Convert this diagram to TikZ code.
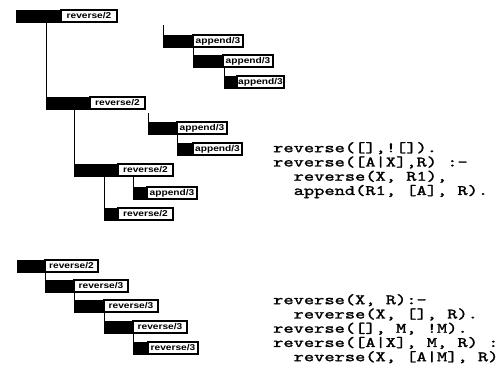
\documentclass[tikz,border=0pt]{standalone}
\usepackage{fontspec}
\newfontfamily\labfontfam{Liberation Sans}[FakeStretch=1.2]
\newfontfamily\codefontfam{lmmono10-regular}[Extension=.otf, FakeStretch=1.35, FakeBold=1.6]
\newcommand\mycodefont{\codefontfam\fontsize{14.5}{14.3}\selectfont\lineskiplimit=-20pt\relax}
\newcommand\tnode[6]{%
  \node[barnode, minimum width=#4bp] (#1b) at (#2,#3) {};
  \node[labnode, minimum width=#5bp] (#1) at (#1b.north east) {#6};}
\tikzset{
  barnode/.style={fill=black, draw=black, line width=0.6bp, inner sep=0pt, outer sep=0pt, minimum height=12bp, anchor=north west},
  labnode/.style={fill=white, draw=black, line width=1.1bp, inner sep=0pt, outer sep=0pt, minimum height=12bp, anchor=north west, font=\labfontfam\bfseries\fontsize{8.5}{9}\selectfont},
  link/.style={line width=0.8bp},
  code/.style={anchor=north west, inner sep=0pt, align=left, font=\mycodefont}
}
\begin{document}
\begin{tikzpicture}[x=1bp,y=-1bp]
\useasboundingbox[fill=white] (0,0) rectangle (503,383);
% top tree
\tnode{r1}{16}{10}{45}{56}{reverse/2}
\tnode{r2}{46}{97}{44}{55}{reverse/2}
\tnode{r3}{74}{164}{44}{55}{reverse/2}
\tnode{a6}{133}{187}{14}{50}{append/3}
\tnode{r4}{104}{208}{14}{55}{reverse/2}
\tnode{a1}{163}{35}{30}{50}{append/3}
\tnode{a2}{193}{55}{30}{50}{append/3}
\tnode{a3}{224}{76}{13}{47}{append/3}
\tnode{a4}{148}{122}{29}{50}{append/3}
\tnode{a5}{177}{143}{16}{49}{append/3}
\coordinate (t1) at (163,25);
\coordinate (t2) at (148,113);
\draw[link] (r1b.south -| r2b.west) -- (r2b.north west);
\draw[link] (r2b.south -| r3b.west) -- (r3b.north west);
\draw[link] (r3b.south -| r4b.west) -- (r4b.north west);
\draw[link] (r3b.south -| a6b.west) -- (a6b.north west);
\draw[link] (t1) -- (a1b.north west);
\draw[link] (a1b.south -| a2b.west) -- (a2b.north west);
\draw[link] (a2b.south -| a3b.west) -- (a3b.north west);
\draw[link] (t2) -- (a4b.north west);
\draw[link] (a4b.south -| a5b.west) -- (a5b.north west);
% bottom chain
\tnode{b1}{17}{260}{28}{53}{reverse/2}
\tnode{b2}{45}{280}{29}{54}{reverse/3}
\tnode{b3}{74}{300}{30}{54}{reverse/3}
\tnode{b4}{104}{321}{29}{54}{reverse/3}
\tnode{b5}{133}{342}{15}{50}{reverse/3}
\draw[link] (b1b.south -| b2b.west) -- (b2b.north west);
\draw[link] (b2b.south -| b3b.west) -- (b3b.north west);
\draw[link] (b3b.south -| b4b.west) -- (b4b.north west);
\draw[link] (b4b.south -| b5b.west) -- (b5b.north west);
% code
\node[code] (c1) at (273,142) {reverse([],![]).\\reverse([A|X],R) :-\\\hphantom{xx}reverse(X, R1),\\\hphantom{xx}append(R1, [A], R).};
\node[code] (c2) at (273,294) {reverse(X, R):-\\\hphantom{xx}reverse(X, [], R).\\reverse([], M, !M).\\reverse([A|X], M, R) :\\\hphantom{xx}reverse(X, [A|M], R)};
\end{tikzpicture}
\end{document}
